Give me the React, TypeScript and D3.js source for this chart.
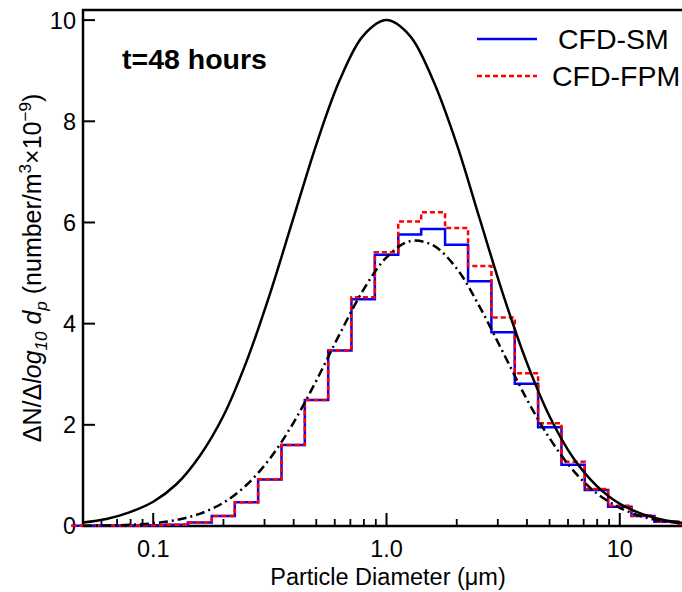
import React from "react";
import * as d3 from "d3";

// Bin centres / curve sample diameters (µm)
const diameters = [0.05, 0.063, 0.079, 0.1, 0.126, 0.158, 0.2, 0.251, 0.316, 0.398, 0.501, 0.631, 0.794, 1.0, 1.26, 1.58, 2.0, 2.51, 3.16, 3.98, 5.01, 6.31, 7.94, 10, 12.6, 15.8, 20];
// CFD-SM histogram values
const smValues = [0.005, 0.008, 0.01, 0.015, 0.025, 0.07, 0.2, 0.47, 0.92, 1.6, 2.49, 3.47, 4.48, 5.36, 5.76, 5.87, 5.56, 4.84, 3.83, 2.81, 1.95, 1.21, 0.71, 0.38, 0.2, 0.085, 0.04];
// CFD-FPM histogram values
const fpmValues = [0.005, 0.008, 0.01, 0.015, 0.025, 0.07, 0.2, 0.47, 0.92, 1.6, 2.49, 3.47, 4.52, 5.41, 6.02, 6.2, 5.89, 5.14, 4.12, 3.02, 2.03, 1.27, 0.73, 0.4, 0.21, 0.09, 0.04];
// Solid black curve (initial distribution)
const solidValues = [0.07, 0.14, 0.27, 0.48, 0.83, 1.38, 2.18, 3.25, 4.58, 6.07, 7.55, 8.82, 9.69, 10.0, 9.69, 8.82, 7.55, 6.07, 4.58, 3.25, 2.16, 1.35, 0.8, 0.44, 0.23, 0.11, 0.05];
// Dash-dot curve
const dashDotValues = [0.003, 0.009, 0.023, 0.054, 0.12, 0.24, 0.46, 0.81, 1.33, 2.03, 2.88, 3.8, 4.66, 5.31, 5.63, 5.55, 5.09, 4.33, 3.43, 2.52, 1.73, 1.1, 0.65, 0.36, 0.18, 0.087, 0.038];

const yTicks = [0, 2, 4, 6, 8, 10];
const xMajor = [0.1, 1, 10];
const xMajorLabels = ["0.1", "1.0", "10"];
const legendLabels = ["CFD-SM", "CFD-FPM"];
const titleText = "t=48 hours";

const FONT = "'Liberation Sans', Arial, Helvetica, sans-serif";

export default function App() {
  const x = d3.scaleLog().domain([0.05, 20]).range([83, 690]);
  const y = d3.scaleLinear().domain([0, 10.2]).range([526, 10]);
  const half = Math.pow(10, 0.05);

  const stepPts = (vals: number[]) => {
    const pts: [number, number][] = diameters.map((d, i) => [x(d / half), y(vals[i])]);
    pts.push([x(diameters[diameters.length - 1] * half), y(vals[vals.length - 1])]);
    return d3.line().curve(d3.curveStepAfter)(pts) || "";
  };
  const curve = (vals: number[]) =>
    d3.line<number>().x((_, i) => x(diameters[i])).y((v) => y(v)).curve(d3.curveCatmullRom.alpha(0.5))(vals) || "";

  const minor: number[] = [];
  [0.01, 0.1, 1, 10].forEach((b) => {
    for (let k = 2; k <= 9; k++) {
      const v = b * k;
      if (v > 0.05 && v < 20) minor.push(v);
    }
  });

  const [x0, x1] = x.range();
  const [yb, yt] = y.range();

  return (
    <svg width={682} height={592} style={{ position: "absolute", left: 0, top: 0, background: "#fff" }} fontFamily={FONT}>
      {/* frame */}
      <rect x={x0} y={yt} width={x1 - x0} height={yb - yt} fill="none" stroke="#000" strokeWidth={2.5} />
      {/* y ticks */}
      {yTicks.map((t) => (
        <g key={"y" + t}>
          <line x1={x0} x2={x0 + 12} y1={y(t)} y2={y(t)} stroke="#000" strokeWidth={2} />
          <text x={76} y={y(t)} dy="0.36em" textAnchor="end" fontSize={23.5}>{t}</text>
        </g>
      ))}
      {/* x ticks */}
      {xMajor.map((t, i) => (
        <g key={"x" + t}>
          <line x1={x(t)} x2={x(t)} y1={yb} y2={yb - 13} stroke="#000" strokeWidth={2} />
          <text x={x(t)} y={557} textAnchor="middle" fontSize={23.5}>{xMajorLabels[i]}</text>
        </g>
      ))}
      {minor.map((t) => (
        <line key={"m" + t} x1={x(t)} x2={x(t)} y1={yb} y2={yb - 7} stroke="#000" strokeWidth={1.8} />
      ))}
      {/* axis titles */}
      <text x={388} y={585} textAnchor="middle" fontSize={23.5}>Particle Diameter (μm)</text>
      <text transform="translate(41,268) rotate(-90)" textAnchor="middle" fontSize={25}>
        <tspan>ΔN/Δ</tspan>
        <tspan fontStyle="italic">log</tspan>
        <tspan fontStyle="italic" fontSize={17} dy={6}>10</tspan>
        <tspan dy={-6}> </tspan>
        <tspan fontStyle="italic">d</tspan>
        <tspan fontStyle="italic" fontSize={17} dy={6}>p</tspan>
        <tspan dy={-6}> (number/m</tspan>
        <tspan fontSize={17} dy={-10}>3</tspan>
        <tspan dy={10}>×10</tspan>
        <tspan fontSize={17} dy={-10}>−9</tspan>
        <tspan dy={10}>)</tspan>
      </text>
      {/* data */}
      <path d={stepPts(smValues)} fill="none" stroke="#0000ff" strokeWidth={2.5} />
      <path d={stepPts(fpmValues)} fill="none" stroke="#ff0000" strokeWidth={2.5} strokeDasharray="5,3" />
      <path d={curve(dashDotValues)} fill="none" stroke="#000" strokeWidth={2.5} strokeDasharray="9,4,2,4" />
      <path d={curve(solidValues)} fill="none" stroke="#000" strokeWidth={2.5} />
      {/* annotation */}
      <text x={122} y={69} fontSize={28.5} fontWeight="bold">{titleText}</text>
      {/* legend */}
      <line x1={477} x2={537} y1={39} y2={39} stroke="#0000ff" strokeWidth={2.5} />
      <text x={558} y={39} dy="0.36em" fontSize={28.5}>{legendLabels[0]}</text>
      <line x1={477} x2={537} y1={76} y2={76} stroke="#ff0000" strokeWidth={2.5} strokeDasharray="5,3" />
      <text x={552} y={76} dy="0.36em" fontSize={28.5}>{legendLabels[1]}</text>
    </svg>
  );
}
